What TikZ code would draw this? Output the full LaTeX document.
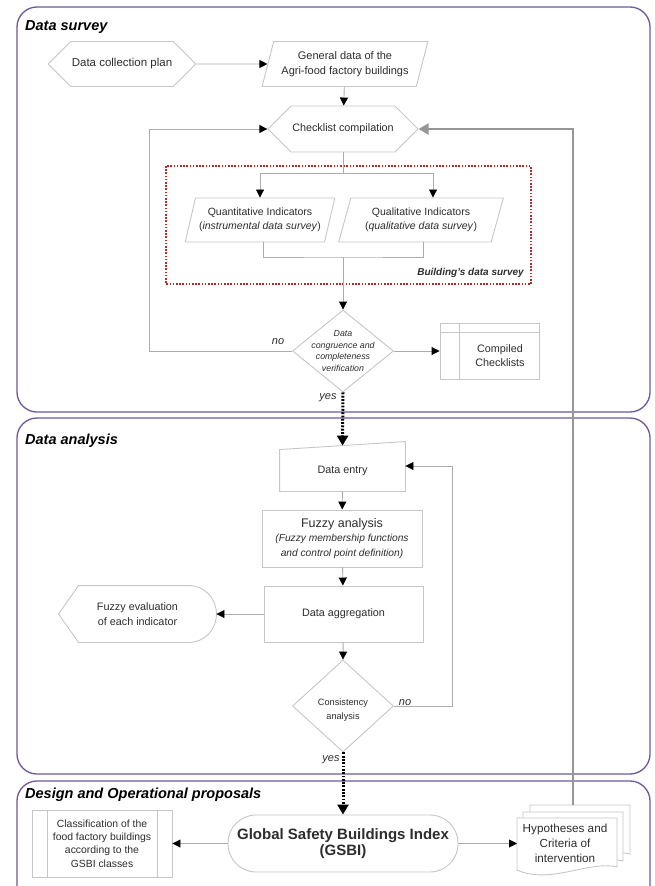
\documentclass[tikz,border=0pt]{standalone}
\usepackage{fontspec}
\setmainfont{Liberation Sans}
\usepackage{xcolor}
\usetikzlibrary{positioning,calc,arrows.meta,shapes.geometric,shapes.symbols}

\definecolor{framepurple}{RGB}{112,86,156}
\definecolor{shapegray}{RGB}{198,198,198}
\definecolor{linegray}{RGB}{172,172,172}
\definecolor{backgray}{RGB}{150,150,150}
\definecolor{surveyred}{RGB}{175,45,35}
\definecolor{inkgray}{RGB}{45,45,45}

\newcommand{\fsz}[2]{\fontsize{#1}{#2}\selectfont}

\begin{document}
\begin{tikzpicture}
  [x=1pt,y=-1pt,
   phasebox/.style={draw=framepurple,line width=1.3pt,rounded corners=20pt},
   phase/.style={anchor=west,inner sep=0pt,font=\fsz{14.5}{17}\bfseries\itshape},
   box/.style={draw=shapegray,line width=0.9pt,fill=white,text=inkgray,align=center,inner sep=1pt,font=\fsz{10.8}{14}},
   hexa/.style={box,signal,signal to=west and east,signal pointer angle=90},
   para/.style={box,trapezium,trapezium left angle=69,trapezium right angle=111,trapezium stretches=true},
   decide/.style={box,diamond,inner sep=0pt},
   plaintext/.style={text=inkgray,align=center,inner sep=0pt,font=\fsz{10.8}{14}},
   shapeline/.style={draw=shapegray,line width=0.9pt},
   surveybox/.style={draw=surveyred,line width=1.6pt,dash pattern=on 1.6pt off 1.6pt},
   flow/.style={draw=linegray,line width=0.9pt},
   flowarrow/.style={flow,-{Triangle[length=8pt,width=8pt,color=black]}},
   yesarrow/.style={draw=black,line width=3pt,dash pattern=on 1.8pt off 1.5pt,-{Triangle[length=10pt,width=11pt]}},
   backarrow/.style={draw=backgray,line width=2.4pt,-{Triangle[length=10pt,width=11pt]}},
   answer/.style={text=inkgray,font=\fsz{11}{13}\itshape}]
  \useasboundingbox (0,0) rectangle (654,886);

  % phases
  \begin{scope}
    \clip (0,0) rectangle (654,886);
    \draw[phasebox] (17,7) rectangle (650,412);
    \draw[phasebox] (17,418) rectangle (650,774);
    \draw[phasebox] (17,781) rectangle (650,930);
  \end{scope}
  \node[phase] (survey) at (25,27) {Data survey};
  \node[phase] (analysis) at (25,441) {Data analysis};
  \node[phase] (design) at (25,795) {Design and Operational proposals};

  % data survey
  \draw[surveybox] (166,166) rectangle (531,284);
  \node[plaintext,anchor=east,font=\fsz{10}{12}\bfseries\itshape] (surveytag) at (524,273) {Building’s data survey};

  \node[hexa,minimum width=140pt,minimum height=45pt,font=\fsz{11.5}{14}] (plan) at (122,64) {Data collection plan};
  \node[para,minimum width=166pt,minimum height=45pt,font=\fsz{11}{15}] (gendata) at (345,64) {General data of the\\Agri-food factory buildings};
  \node[hexa,minimum width=150pt,minimum height=46pt] (checklist) at (343,129) {Checklist compilation};
  \node[para,minimum width=150pt,minimum height=44pt,font=\fsz{10.5}{14}] (quant) at (260,220) {Quantitative Indicators\\(\textit{instrumental data survey})};
  \node[para,minimum width=165pt,minimum height=44pt,font=\fsz{10.5}{14}] (qual) at (421,220) {Qualitative Indicators\\(\textit{qualitative data survey})};

  \node[decide,minimum width=101pt,minimum height=82pt] (congr) at (343,351) {};
  \node[plaintext,font=\fsz{8.8}{11.8}\itshape] (congrtext) at (congr) {Data\\congruence and\\completeness\\verification};

  \node[box,minimum width=99pt,minimum height=56pt] (compiled) at (489.5,351) {};
  \draw[shapeline] ($(compiled.north west)+(20,0)$) -- ($(compiled.south west)+(20,0)$);
  \draw[shapeline] ($(compiled.north west)+(0,10)$) -- ($(compiled.north east)+(0,10)$);
  \node[plaintext] (compiledtext) at (500,356) {Compiled\\Checklists};

  \coordinate (split) at (343,173);
  \coordinate (merge) at (343,257);
  \coordinate (loopturn) at (149,351);

  \draw[flowarrow] (plan) -- (gendata);
  \draw[flowarrow] (gendata) -- (checklist);
  \draw[flow] (checklist.south) -- (split);
  \draw[flowarrow] (split) -| (quant.north);
  \draw[flowarrow] (split) -| ($(qual.north)+(12,0)$);
  \draw[flow] ($(quant.south)+(3,0)$) |- (merge) -| ($(qual.south)+(2,0)$);
  \draw[flowarrow] (merge) -- (congr.north);
  \draw[flowarrow] (congr.west) -- (loopturn) |- (checklist.west);
  \draw[flowarrow] (congr.east) -- (compiled.west);
  \node[answer] (nocongr) at (278,342) {no};
  \node[answer] (yescongr) at (328,398) {yes};

  % data analysis
  \node[box,draw=none,minimum width=125pt,minimum height=41pt] (entry) at (342.5,470.5) {Data entry};
  \draw[shapeline] (entry.south west) -- (entry.north west) -- ($(entry.north east)+(0,-8)$) -- (entry.south east) -- cycle;
  \coordinate (entrytop) at ($(entry.north)+(0,-4)$);

  \node[box,minimum width=160pt,minimum height=57pt,font=\fsz{10.2}{14.5}] (fuzzy) at (342,538.5)
    {{\fsz{12.5}{15}Fuzzy analysis}\\\textit{(Fuzzy membership functions}\\\textit{and control point definition)}};
  \node[box,minimum width=159pt,minimum height=56pt] (aggr) at (343.5,614) {Data aggregation};

  \node[box,draw=none,fill=none,minimum width=157pt,minimum height=56pt,font=\fsz{10.8}{15}] (fuzzyeval) at (137.5,614) {Fuzzy evaluation\\of each indicator};
  \draw[shapeline] (fuzzyeval.west) -- ($(fuzzyeval.north west)+(20,0)$) -- ($(fuzzyeval.north east)+(-28,0)$)
    .. controls ($(fuzzyeval.north east)+(-12,0)$) and ($(fuzzyeval.east)+(0,-16)$) .. (fuzzyeval.east)
    .. controls ($(fuzzyeval.east)+(0,16)$) and ($(fuzzyeval.south east)+(-12,0)$) .. ($(fuzzyeval.south east)+(-28,0)$)
    -- ($(fuzzyeval.south west)+(20,0)$) -- cycle;

  \node[decide,minimum width=101pt,minimum height=92pt] (consist) at (343,706) {};
  \node[plaintext,font=\fsz{9.2}{14}] (consisttext) at (343,710) {Consistency\\analysis};

  \coordinate (fbturn) at (452,466);
  \draw[yesarrow] (congr.south) -- (entrytop);
  \draw[flowarrow] (entry) -- (fuzzy);
  \draw[flowarrow] (fuzzy) -- (aggr);
  \draw[flowarrow] (aggr.west) -- (fuzzyeval.east);
  \draw[flowarrow] (aggr) -- (consist.north);
  \draw[flowarrow] (consist.east) -| (fbturn) -- (fbturn -| entry.east);
  \node[answer] (noconsist) at (405,703) {no};
  \node[answer] (yesconsist) at (331,760) {yes};

  % design and operational proposals
  \node[box,rounded corners=28pt,inner xsep=0pt,minimum width=230pt,minimum height=57pt,font=\fsz{15}{16}\bfseries] (gsbi) at (343,843.5)
    {Global Safety Buildings Index\\(GSBI)};
  \node[box,minimum width=140pt,minimum height=67pt,font=\fsz{10.4}{13.4}] (classif) at (102,843.5)
    {Classification of the\\food factory buildings\\according to the\\GSBI classes};
  \draw[shapeline] ($(classif.north west)+(16,0)$) -- ($(classif.south west)+(16,0)$);
  \draw[shapeline] ($(classif.north east)+(-15,0)$) -- ($(classif.south east)+(-15,0)$);

  \coordinate (hypoc) at (567,844);
  \foreach \dx/\dy in {13/-13,6/-6,0/0}
    \draw[shapeline,fill=white] ($(hypoc)+(\dx-50,\dy-26)$) -- ++(100,0) -- ++(0,49)
      .. controls +(-27,-7) and +(33,15) .. ++(-100,3) -- cycle;
  \node[plaintext,font=\fsz{11.7}{15}] (hypo) at (565,843) {Hypotheses and\\Criteria of\\intervention};
  \coordinate (hypoin) at ($(hypoc)+(-50,-0.5)$);
  \coordinate (hypotop) at ($(hypoc)+(6,-39)$);

  \draw[yesarrow] (consist.south) -- (gsbi.north);
  \draw[flowarrow] (gsbi.west) -- (classif.east);
  \draw[flowarrow] (gsbi.east) -- (hypoin);
  \draw[backarrow] (hypotop) |- (checklist.east);
\end{tikzpicture}
\end{document}
